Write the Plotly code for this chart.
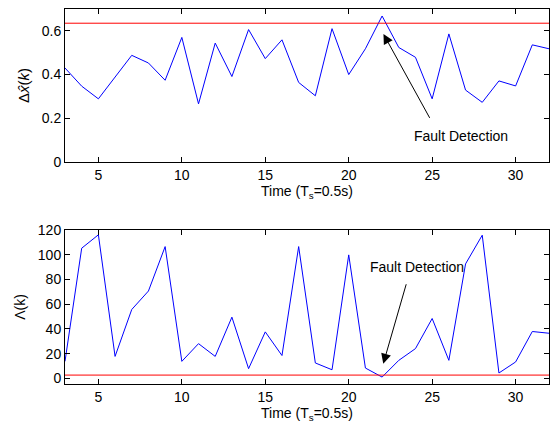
import plotly.graph_objects as go
from plotly.subplots import make_subplots

time_k = list(range(3, 33))
delta_x = [0.43, 0.347, 0.289, 0.39, 0.488, 0.453, 0.374, 0.57, 0.266, 0.544,
           0.391, 0.606, 0.473, 0.559, 0.364, 0.303, 0.61, 0.40, 0.518, 0.668,
           0.524, 0.479, 0.289, 0.586, 0.329, 0.273, 0.371, 0.348, 0.536, 0.518]
threshold_top = 0.635
lambda_k = [13.8, 105.2, 116, 17.8, 55.7, 70.6, 106.5, 13.8, 28.1, 17.8,
            49.5, 7.9, 37.6, 18.5, 106.5, 12.5, 7, 99.8, 8.4, 1.1,
            14.6, 24.1, 48.4, 14.6, 92.5, 115.7, 4.4, 13.3, 37.9, 36.5]
threshold_bot = 2.7

fig = make_subplots(rows=2, cols=1, vertical_spacing=0.18)
fig.add_trace(go.Scatter(x=time_k, y=delta_x, mode="lines",
                         line=dict(color="#0000ff", width=1)), row=1, col=1)
fig.add_trace(go.Scatter(x=[3, 32], y=[threshold_top, threshold_top], mode="lines",
                         line=dict(color="#ff0000", width=1)), row=1, col=1)
fig.add_trace(go.Scatter(x=time_k, y=lambda_k, mode="lines",
                         line=dict(color="#0000ff", width=1)), row=2, col=1)
fig.add_trace(go.Scatter(x=[3, 32], y=[threshold_bot, threshold_bot], mode="lines",
                         line=dict(color="#ff0000", width=1)), row=2, col=1)

axis_common = dict(showline=True, linecolor="black", linewidth=1, mirror="ticks",
                   ticks="inside", ticklen=5, tickcolor="black", showgrid=False,
                   zeroline=False, automargin=False,
                   tickfont=dict(size=14, color="black"))

fig.update_xaxes(range=[3, 32], tickvals=[5, 10, 15, 20, 25, 30],
                 title=dict(text="Time (T<sub>s</sub>=0.5s)", font=dict(size=14, color="black"), standoff=2),
                 **axis_common)
fig.update_yaxes(range=[0, 0.7], tickvals=[0, 0.2, 0.4, 0.6],
                 title=dict(text="Δ<i>x̂</i>(<i>k</i>)", font=dict(size=15, color="black"), standoff=8),
                 row=1, col=1, **axis_common)
fig.update_yaxes(range=[-4.5, 120], tickvals=[0, 20, 40, 60, 80, 100, 120],
                 title=dict(text="Λ(k)", font=dict(size=14, color="black"), standoff=8),
                 row=2, col=1, **axis_common)

fig.update_layout(
    width=552, height=429, showlegend=False,
    margin=dict(l=65, r=3, t=9, b=45),
    plot_bgcolor="white", paper_bgcolor="white",
    font=dict(family="Liberation Sans, Arial, sans-serif", size=14, color="black"),
)
fig.layout.yaxis.domain = [0.592, 1.0]
fig.layout.yaxis2.domain = [0.0, 0.411]

fig.add_annotation(x=22.08, y=0.586, ax=24.9, ay=0.195, xref="x", yref="y",
                   axref="x", ayref="y", showarrow=True, arrowhead=2, arrowsize=2,
                   arrowwidth=1, arrowcolor="black", text="")
fig.add_annotation(x=26.7, y=0.12, xref="x", yref="y", text="Fault Detection",
                   showarrow=False, font=dict(size=14, color="black"))
fig.add_annotation(x=22.07, y=11.9, ax=23.47, ay=77.3, xref="x2", yref="y2",
                   axref="x2", ayref="y2", showarrow=True, arrowhead=2, arrowsize=2,
                   arrowwidth=1, arrowcolor="black", text="")
fig.add_annotation(x=24.1, y=90.3, xref="x2", yref="y2", text="Fault Detection",
                   showarrow=False, font=dict(size=14, color="black"))

fig.write_html("out.html", config={"displayModeBar": False},
               post_script="document.body.style.margin='0px';")
